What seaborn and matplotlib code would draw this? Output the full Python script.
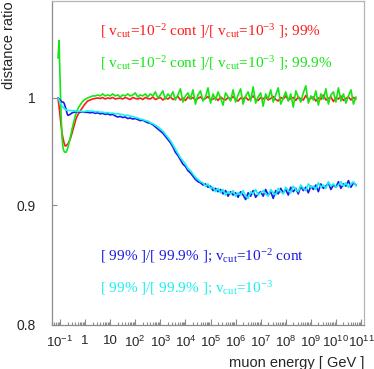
import matplotlib
matplotlib.use('Agg')
import matplotlib.pyplot as plt
import matplotlib.ticker as mticker
import seaborn as sns
import numpy as np
import pandas as pd

# log10(muon energy / GeV): dense points at low energy, then 0.1 steps
lg_low = [-1.08, -1.04, -1.00, -0.96, -0.92, -0.88, -0.84, -0.80, -0.76, -0.72,
          -0.68, -0.60, -0.52, -0.44, -0.36, -0.28, -0.20, -0.12, -0.04]
lg_main = [0.1, 0.2, 0.3, 0.4, 0.5, 0.6, 0.7, 0.8, 0.9, 1.0,
           1.1, 1.2, 1.3, 1.4, 1.5, 1.6, 1.7, 1.8, 1.9, 2.0,
           2.1, 2.2, 2.3, 2.4, 2.5, 2.6, 2.7, 2.8, 2.9, 3.0,
           3.1, 3.2, 3.3, 3.4, 3.5, 3.6, 3.7, 3.8, 3.9, 4.0,
           4.1, 4.2, 4.3, 4.4, 4.5, 4.6, 4.7, 4.8, 4.9, 5.0,
           5.1, 5.2, 5.3, 5.4, 5.5, 5.6, 5.7, 5.8, 5.9, 6.0,
           6.1, 6.2, 6.3, 6.4, 6.5, 6.6, 6.7, 6.8, 6.9, 7.0,
           7.1, 7.2, 7.3, 7.4, 7.5, 7.6, 7.7, 7.8, 7.9, 8.0,
           8.1, 8.2, 8.3, 8.4, 8.5, 8.6, 8.7, 8.8, 8.9, 9.0,
           9.1, 9.2, 9.3, 9.4, 9.5, 9.6, 9.7, 9.8, 9.9, 10.0,
           10.1, 10.2, 10.3, 10.4, 10.5, 10.6, 10.7, 10.8]

# [vcut=1e-2 cont]/[vcut=1e-3], 99%
red = [1.000, 0.992, 0.983, 0.974, 0.966, 0.961, 0.957, 0.954, 0.954, 0.955,
       0.956, 0.960, 0.966, 0.973, 0.980, 0.984, 0.987, 0.990, 0.993,
       0.997, 0.998, 0.999, 0.9995, 1.000, 0.9995, 1.0005, 0.999, 1.000, 0.9995,
       1.0005, 0.999, 0.9995, 1.000, 0.999, 1.0005, 0.9995, 0.9985, 1.0005, 0.9995,
       0.999, 1.000, 0.9985, 1.0005, 0.9995, 0.999, 1.001, 0.9985, 0.9995, 1.0005,
       0.998, 1.000, 0.999, 1.001, 0.9985, 0.9995, 1.0015, 0.998, 1.000, 0.9975,
       1.001, 0.999, 1.0005, 0.998, 0.9995, 1.001, 0.9985, 0.9995, 1.0015, 0.998,
       0.999, 1.0005, 0.9975, 1.001, 0.999, 0.998, 1.0005, 0.999, 1.0015, 0.9985,
       0.997, 1.000, 0.999, 1.001, 0.998, 0.9995, 1.002, 0.9985, 0.9975, 1.0005,
       0.999, 1.001, 0.998, 0.9995, 1.0015, 0.9985, 0.997, 1.0005, 0.999, 1.002,
       0.998, 0.9995, 1.0005, 0.9975, 1.001, 0.999, 0.998, 1.0025, 0.9985, 0.9995,
       1.001, 0.997, 1.000, 0.9985, 1.003, 0.998, 0.9995, 1.001, 0.9965, 1.0005,
       0.999, 1.002, 0.9975, 0.9995, 1.001, 0.998, 1.0005, 0.999]

# [vcut=1e-2 cont]/[vcut=1e-3], 99.9%
green = [1.040, 1.058, 1.020, 0.985, 0.962, 0.952, 0.949, 0.948, 0.948, 0.950,
         0.953, 0.961, 0.970, 0.978, 0.985, 0.990, 0.993, 0.996, 0.998,
         1.000, 1.001, 1.002, 1.002, 1.003, 1.002, 1.004, 1.002, 1.003, 1.002,
         1.004, 1.002, 1.003, 1.001, 1.003, 1.002, 1.004, 1.002, 1.003, 1.005,
         1.001, 1.003, 1.002, 1.004, 1.001, 1.004, 1.002, 1.006, 1.000, 1.003,
         1.007, 0.999, 1.004, 1.001, 1.006, 0.998, 1.003, 1.009, 0.996, 1.002,
         1.005, 0.999, 1.008, 0.994, 1.003, 1.007, 0.997, 1.001, 1.010, 0.995,
         1.004, 0.998, 1.006, 1.000, 0.993, 1.005, 1.001, 0.997, 1.008, 0.996,
         1.003, 1.009, 0.994, 1.002, 1.006, 0.997, 1.011, 0.995, 1.001, 1.005,
         0.992, 1.004, 0.999, 1.008, 0.996, 1.003, 1.010, 0.994, 1.000, 1.006,
         0.997, 1.004, 0.991, 1.007, 1.001, 0.996, 1.005, 1.012, 0.995, 1.002,
         0.998, 1.007, 0.993, 1.004, 0.999, 1.009, 0.994, 1.003, 1.006, 0.996,
         1.010, 0.997, 1.004, 0.995, 1.002, 1.008, 0.994, 1.001]

# [99%]/[99.9%], vcut=1e-2 cont
blue = [1.000, 0.999, 0.998, 0.997, 0.996, 0.996, 0.995, 0.992, 0.989, 0.985,
        0.983, 0.984, 0.9855, 0.986, 0.9865, 0.9865, 0.986, 0.9865, 0.986,
        0.986, 0.9855, 0.986, 0.985, 0.9855, 0.9845, 0.985, 0.984, 0.9845, 0.9835,
        0.984, 0.9825, 0.9815, 0.982, 0.981, 0.9815, 0.980, 0.9805, 0.9795, 0.980,
        0.979, 0.978, 0.9785, 0.977, 0.976, 0.9755, 0.974, 0.972, 0.970, 0.968,
        0.966, 0.963, 0.960, 0.957, 0.953, 0.948, 0.945, 0.941, 0.937, 0.935,
        0.931, 0.929, 0.926, 0.923, 0.921, 0.920, 0.918, 0.919, 0.916, 0.917,
        0.913, 0.915, 0.912, 0.914, 0.910, 0.913, 0.908, 0.912, 0.909, 0.911,
        0.907, 0.912, 0.909, 0.905, 0.911, 0.908, 0.913, 0.907, 0.910, 0.912,
        0.908, 0.914, 0.909, 0.912, 0.906, 0.913, 0.910, 0.915, 0.911, 0.914,
        0.909, 0.916, 0.912, 0.915, 0.910, 0.917, 0.913, 0.916, 0.911, 0.917,
        0.914, 0.918, 0.912, 0.919, 0.915, 0.917, 0.920, 0.914, 0.918, 0.916,
        0.921, 0.915, 0.919, 0.917, 0.922, 0.916, 0.920, 0.918]

# [99%]/[99.9%], vcut=1e-3
cyan = [1.000, 0.998, 0.996, 0.994, 0.992, 0.991, 0.990, 0.989, 0.9885, 0.988,
        0.988, 0.9878, 0.9875, 0.9875, 0.9872, 0.987, 0.987, 0.9868, 0.9866,
        0.9875, 0.987, 0.9872, 0.9865, 0.9868, 0.986, 0.9862, 0.9855, 0.9858, 0.985,
        0.9852, 0.9845, 0.9847, 0.984, 0.9838, 0.983, 0.9832, 0.9822, 0.982, 0.981,
        0.9805, 0.9795, 0.979, 0.978, 0.9775, 0.976, 0.975, 0.9735, 0.972, 0.970,
        0.968, 0.965, 0.962, 0.959, 0.955, 0.951, 0.947, 0.943, 0.940, 0.937,
        0.933, 0.931, 0.928, 0.925, 0.923, 0.921, 0.920, 0.917, 0.919, 0.915,
        0.916, 0.912, 0.915, 0.911, 0.914, 0.909, 0.912, 0.910, 0.913, 0.908,
        0.911, 0.909, 0.913, 0.908, 0.906, 0.912, 0.910, 0.914, 0.909, 0.911,
        0.913, 0.910, 0.908, 0.914, 0.911, 0.909, 0.915, 0.912, 0.910, 0.916,
        0.913, 0.911, 0.917, 0.914, 0.912, 0.918, 0.915, 0.913, 0.919, 0.916,
        0.917, 0.914, 0.920, 0.916, 0.918, 0.915, 0.921, 0.917, 0.919, 0.916,
        0.918, 0.921, 0.917, 0.920, 0.916, 0.919, 0.921, 0.917]

x_ticks_exp = [-1, 0, 1, 2, 3, 4, 5, 6, 7, 8, 9, 10, 11]
x_tick_labels = ['10$^{-1}$', '1', '10', '10$^{2}$', '10$^{3}$', '10$^{4}$', '10$^{5}$',
                 '10$^{6}$', '10$^{7}$', '10$^{8}$', '10$^{9}$', '10$^{10}$', '10$^{11}$']
y_ticks = [0.8, 0.9, 1.0]
y_tick_labels = ['0.8', '0.9', '1']

series = {'red': red, 'green': green, 'blue': blue, 'cyan': cyan}
colors = {'red': '#ff1a1a', 'green': '#14e614', 'blue': '#1a1ae6', 'cyan': '#19f0f0'}

lg = lg_low + lg_main
rows = []
for name, vals in series.items():
    for l, v in zip(lg, vals):
        rows.append((10 ** l, v, name))
df = pd.DataFrame(rows, columns=['energy', 'ratio', 'curve'])

sns.set_theme(style='white')
plt.rcParams['font.family'] = ['Liberation Sans', 'DejaVu Sans']
plt.rcParams['mathtext.default'] = 'regular'

fig = plt.figure(figsize=(3.74, 3.69), dpi=100)
ax = fig.add_axes([52 / 374, 44 / 369, 312 / 374, 324 / 369])

sns.lineplot(data=df, x='energy', y='ratio', hue='curve', hue_order=list(series),
             palette=colors, estimator=None, sort=False, lw=1.2, legend=False, ax=ax)

ax.set_xscale('log')
ax.set_yscale('log')
ax.set_xlim(10 ** -1.32, 10 ** 11.12)
ax.set_ylim(0.8, 1.1)

ax.xaxis.set_major_locator(mticker.FixedLocator([10.0 ** e for e in x_ticks_exp]))
ax.xaxis.set_major_formatter(mticker.FixedFormatter(x_tick_labels))
ax.xaxis.set_minor_locator(mticker.LogLocator(base=10, subs=np.arange(2, 10), numticks=30))
ax.xaxis.set_minor_formatter(mticker.NullFormatter())
ax.yaxis.set_major_locator(mticker.FixedLocator(y_ticks))
ax.yaxis.set_major_formatter(mticker.FixedFormatter(y_tick_labels))
ax.yaxis.set_minor_locator(mticker.NullLocator())

ax.tick_params(axis='both', which='both', direction='in', color='#8c8c8c', width=0.8,
               bottom=True, left=True, top=False, right=False)
ax.tick_params(axis='x', which='major', length=4, labelsize=9.5, pad=7)
ax.tick_params(axis='x', which='minor', length=2)
ax.tick_params(axis='y', which='major', length=3.5, labelsize=10, pad=12)

for side in ['left', 'bottom']:
    ax.spines[side].set_color('#8c8c8c')
    ax.spines[side].set_linewidth(0.9)
for side in ['top', 'right']:
    ax.spines[side].set_color('#b4b4b4')
    ax.spines[side].set_linewidth(0.9)

ax.set_xlabel('muon energy [ GeV ]', fontsize=10.5, loc='right')
ax.xaxis.set_label_coords(1.0, -0.095)
ax.set_ylabel('distance ratio', fontsize=10.5, loc='top')
ax.yaxis.set_label_coords(-0.115, 1.0)

serif = ['Liberation Serif', 'DejaVu Serif']
notes = [
    (0.895, r'[ v$_{cut}$=10$^{-2}$ cont ]/[ v$_{cut}$=10$^{-3}$ ]; 99%', colors['red']),
    (0.796, r'[ v$_{cut}$=10$^{-2}$ cont ]/[ v$_{cut}$=10$^{-3}$ ]; 99.9%', colors['green']),
    (0.198, r'[ 99% ]/[ 99.9% ]; v$_{cut}$=10$^{-2}$ cont', colors['blue']),
    (0.099, r'[ 99% ]/[ 99.9% ]; v$_{cut}$=10$^{-3}$', colors['cyan']),
]
for y, txt, c in notes:
    ax.text(0.154, y, txt, transform=ax.transAxes, color=c, fontsize=11,
            family=serif, va='baseline', ha='left')

fig.savefig('out.png', dpi=100)
